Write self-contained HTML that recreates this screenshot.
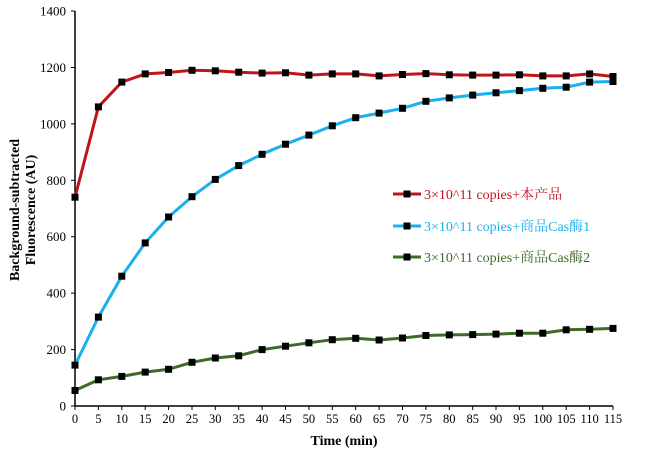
<!DOCTYPE html>
<html><head><meta charset="utf-8"><style>body{margin:0;background:#fff}svg{display:block}</style></head><body>
<svg width="645" height="468" xmlns="http://www.w3.org/2000/svg" font-family="Liberation Serif, Noto Serif CJK SC, serif">
<defs>
<marker id="m" markerUnits="userSpaceOnUse" markerWidth="8" markerHeight="8" refX="4" refY="4" viewBox="0 0 8 8"><rect x="0.5" y="0.5" width="7" height="7" fill="#000"/></marker>
</defs>
<line x1="75" y1="11" x2="75" y2="406" stroke="#000" stroke-width="1.5"/>
<line x1="75" y1="406" x2="613" y2="406" stroke="#000" stroke-width="1.5"/>
<g stroke="#000">
<line x1="71" y1="406" x2="75" y2="406"/><line x1="71" y1="349.6" x2="75" y2="349.6"/><line x1="71" y1="293.1" x2="75" y2="293.1"/><line x1="71" y1="236.7" x2="75" y2="236.7"/><line x1="71" y1="180.3" x2="75" y2="180.3"/><line x1="71" y1="123.9" x2="75" y2="123.9"/><line x1="71" y1="67.5" x2="75" y2="67.5"/><line x1="71" y1="11" x2="75" y2="11"/>
</g>
<g font-size="13" text-anchor="end">
<text x="66" y="410.5">0</text><text x="66" y="354">200</text><text x="66" y="297.6">400</text><text x="66" y="241.2">600</text><text x="66" y="184.8">800</text><text x="66" y="128.4">1000</text><text x="66" y="72">1200</text><text x="66" y="15.5">1400</text>
</g>
<g stroke="#000">
<line x1="75" y1="406" x2="75" y2="410"/><line x1="98.4" y1="406" x2="98.4" y2="410"/><line x1="121.8" y1="406" x2="121.8" y2="410"/><line x1="145.2" y1="406" x2="145.2" y2="410"/><line x1="168.6" y1="406" x2="168.6" y2="410"/><line x1="192" y1="406" x2="192" y2="410"/><line x1="215.3" y1="406" x2="215.3" y2="410"/><line x1="238.7" y1="406" x2="238.7" y2="410"/><line x1="262.1" y1="406" x2="262.1" y2="410"/><line x1="285.5" y1="406" x2="285.5" y2="410"/><line x1="308.9" y1="406" x2="308.9" y2="410"/><line x1="332.3" y1="406" x2="332.3" y2="410"/><line x1="355.7" y1="406" x2="355.7" y2="410"/><line x1="379.1" y1="406" x2="379.1" y2="410"/><line x1="402.5" y1="406" x2="402.5" y2="410"/><line x1="425.9" y1="406" x2="425.9" y2="410"/><line x1="449.3" y1="406" x2="449.3" y2="410"/><line x1="472.7" y1="406" x2="472.7" y2="410"/><line x1="496" y1="406" x2="496" y2="410"/><line x1="519.4" y1="406" x2="519.4" y2="410"/><line x1="542.8" y1="406" x2="542.8" y2="410"/><line x1="566.2" y1="406" x2="566.2" y2="410"/><line x1="589.6" y1="406" x2="589.6" y2="410"/><line x1="613" y1="406" x2="613" y2="410"/>
</g>
<g font-size="12.5" text-anchor="middle">
<text x="75" y="423">0</text><text x="98.4" y="423">5</text><text x="121.8" y="423">10</text><text x="145.2" y="423">15</text><text x="168.6" y="423">20</text><text x="192" y="423">25</text><text x="215.3" y="423">30</text><text x="238.7" y="423">35</text><text x="262.1" y="423">40</text><text x="285.5" y="423">45</text><text x="308.9" y="423">50</text><text x="332.3" y="423">55</text><text x="355.7" y="423">60</text><text x="379.1" y="423">65</text><text x="402.5" y="423">70</text><text x="425.9" y="423">75</text><text x="449.3" y="423">80</text><text x="472.7" y="423">85</text><text x="496" y="423">90</text><text x="519.4" y="423">95</text><text x="542.8" y="423">100</text><text x="566.2" y="423">105</text><text x="589.6" y="423">110</text><text x="613" y="423">115</text>
</g>
<g fill="none" stroke-width="3" marker-start="url(#m)" marker-mid="url(#m)" marker-end="url(#m)">
<polyline stroke="#3e6b2a" points="75,390.5 98.4,379.8 121.8,376.4 145.2,372.1 168.6,369.3 192,362.3 215.3,358 238.7,355.8 262.1,349.6 285.5,346.2 308.9,342.8 332.3,339.7 355.7,338.3 379.1,340 402.5,338 425.9,335.5 449.3,334.9 472.7,334.6 496,334.1 519.4,333.2 542.8,333.2 566.2,329.8 589.6,329.3 613,328.4"/>
<polyline stroke="#1ab0ec" points="75,365.1 98.4,317.1 121.8,276.2 145.2,242.9 168.6,217 192,196.7 215.3,179.4 238.7,165.6 262.1,154.3 285.5,144.2 308.9,135.1 332.3,125.8 355.7,117.7 379.1,113.1 402.5,108.3 425.9,101.3 449.3,97.9 472.7,95.1 496,92.8 519.4,90.6 542.8,88.3 566.2,87.2 589.6,82.1 613,81.5"/>
<polyline stroke="#c0141c" points="75,197.2 98.4,106.9 121.8,82.1 145.2,73.9 168.6,72.5 192,70.3 215.3,70.8 238.7,72.2 262.1,73.1 285.5,72.8 308.9,75.1 332.3,73.9 355.7,73.9 379.1,75.9 402.5,74.5 425.9,73.6 449.3,74.8 472.7,75.1 496,75.1 519.4,74.8 542.8,75.9 566.2,75.9 589.6,73.9 613,76.5"/>
</g>
<line x1="393" y1="194" x2="421" y2="194" stroke="#c0141c" stroke-width="3"/><rect x="403.5" y="190.5" width="7" height="7"/>
<text x="424" y="199" font-size="14" fill="#c0141c">3×10^11 copies+本产品</text>
<line x1="393" y1="226" x2="421" y2="226" stroke="#1ab0ec" stroke-width="3"/><rect x="403.5" y="222.5" width="7" height="7"/>
<text x="424" y="231" font-size="14" fill="#1ab0ec">3×10^11 copies+商品Cas酶1</text>
<line x1="393" y1="257" x2="421" y2="257" stroke="#3e6b2a" stroke-width="3"/><rect x="403.5" y="253.5" width="7" height="7"/>
<text x="424" y="262" font-size="14" fill="#3e6b2a">3×10^11 copies+商品Cas酶2</text>
<text x="344" y="445" font-size="14" font-weight="bold" text-anchor="middle">Time (min)</text>
<g transform="translate(19,210) rotate(-90)" font-size="14" font-weight="bold" text-anchor="middle">
<text x="0" y="0">Background-subtracted</text><text x="0" y="16">Fluorescence (AU)</text>
</g>
</svg>
</body></html>
